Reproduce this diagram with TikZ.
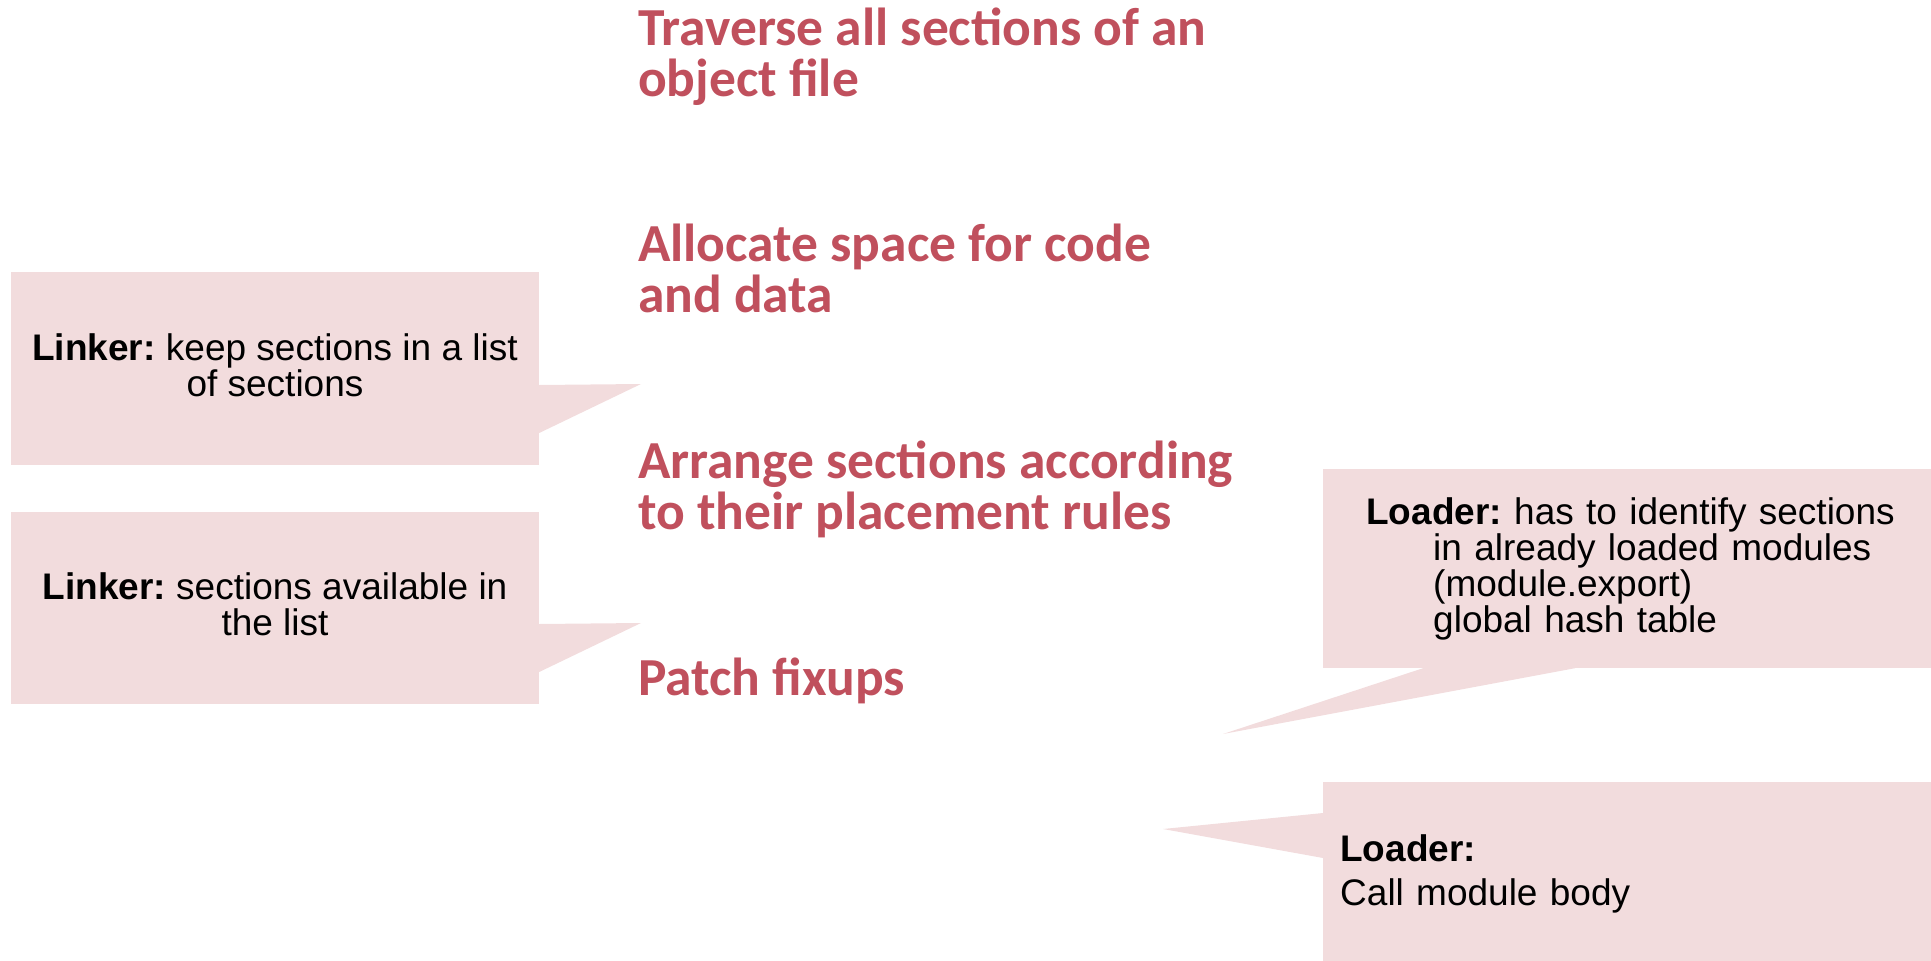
\documentclass[tikz,border=0pt]{standalone}
\usepackage{fontspec}
\usepackage{tikz}
\usepackage{xcolor}
\setmainfont{Liberation Sans}
\newfontfamily\titlefont{Carlito}
\frenchspacing
\definecolor{notecol}{RGB}{242,220,221}
\definecolor{titlecol}{RGB}{192,80,93}
\tikzset{
StepTitre/.style={
 anchor=base west,
 inner sep=0pt,
 align=left,
 text=titlecol,
 font=\titlefont\bfseries\fontsize{53.5}{51}\selectfont
 },
LinkNote/.style={
 fill=notecol,
 inner sep=0pt,
 minimum width=528pt,
 text depth=7.5pt,
 align=center,
 font=\fontsize{37}{36}\selectfont
 },
LoadNote/.style={
 fill=notecol,
 anchor=west,
 inner xsep=#1,
 inner ysep=0pt,
 text width=608pt-#1,
 align=left,
 font=\fontsize{37}{36}\selectfont
 },
Bec/.style={
 fill=notecol
 }
}
\begin{document}
\begin{tikzpicture}[x=1pt,y=-1pt]
\useasboundingbox (0,0) rectangle (1931,961);
\node[StepTitre] (trav) at (638,96) {Traverse all sections of an\\object file};
\node[StepTitre] (alloc) at (638,312) {Allocate space for code\\and data};
\node[StepTitre] (arrange) at (638,529) {Arrange sections according\\to their placement rules};
\node[StepTitre] (patch) at (638,695) {Patch fixups};
\node[LinkNote,minimum height=193pt] (linkA) at (275,368.5) {\textbf{Linker:} keep sections in a list\\of sections};
\node[LinkNote,minimum height=192pt] (linkB) at (275,608) {\textbf{Linker:} sections available in\\the list};
\node[LoadNote=43pt,minimum height=199pt] (loadA) at (1323,568.5) {\textbf{Loader:} has to identify sections\\\hspace*{67pt}in already loaded modules\\\hspace*{67pt}(module.export)\\\hspace*{67pt}global hash table};
\node[LoadNote=17pt,minimum height=184pt] (loadB) at (1323,874) {\textbf{Loader:}\\[8pt]Call module body};
\coordinate (tipA) at (641,384);
\coordinate (tipB) at (641,623);
\coordinate (tipC) at (1223,734);
\coordinate (tipD) at (1163,829);
\fill[Bec] ([yshift=-16.5pt]linkA.east) -- (tipA) -- ([yshift=-64.5pt]linkA.east) -- cycle;
\fill[Bec] ([yshift=-16pt]linkB.east) -- (tipB) -- ([yshift=-64pt]linkB.east) -- cycle;
\fill[Bec] ([xshift=100pt]loadA.south west) -- (tipC) -- ([xshift=252pt]loadA.south west) -- cycle;
\fill[Bec] ([yshift=61pt]loadB.west) -- (tipD) -- ([yshift=16pt]loadB.west) -- cycle;
\end{tikzpicture}
\end{document}
